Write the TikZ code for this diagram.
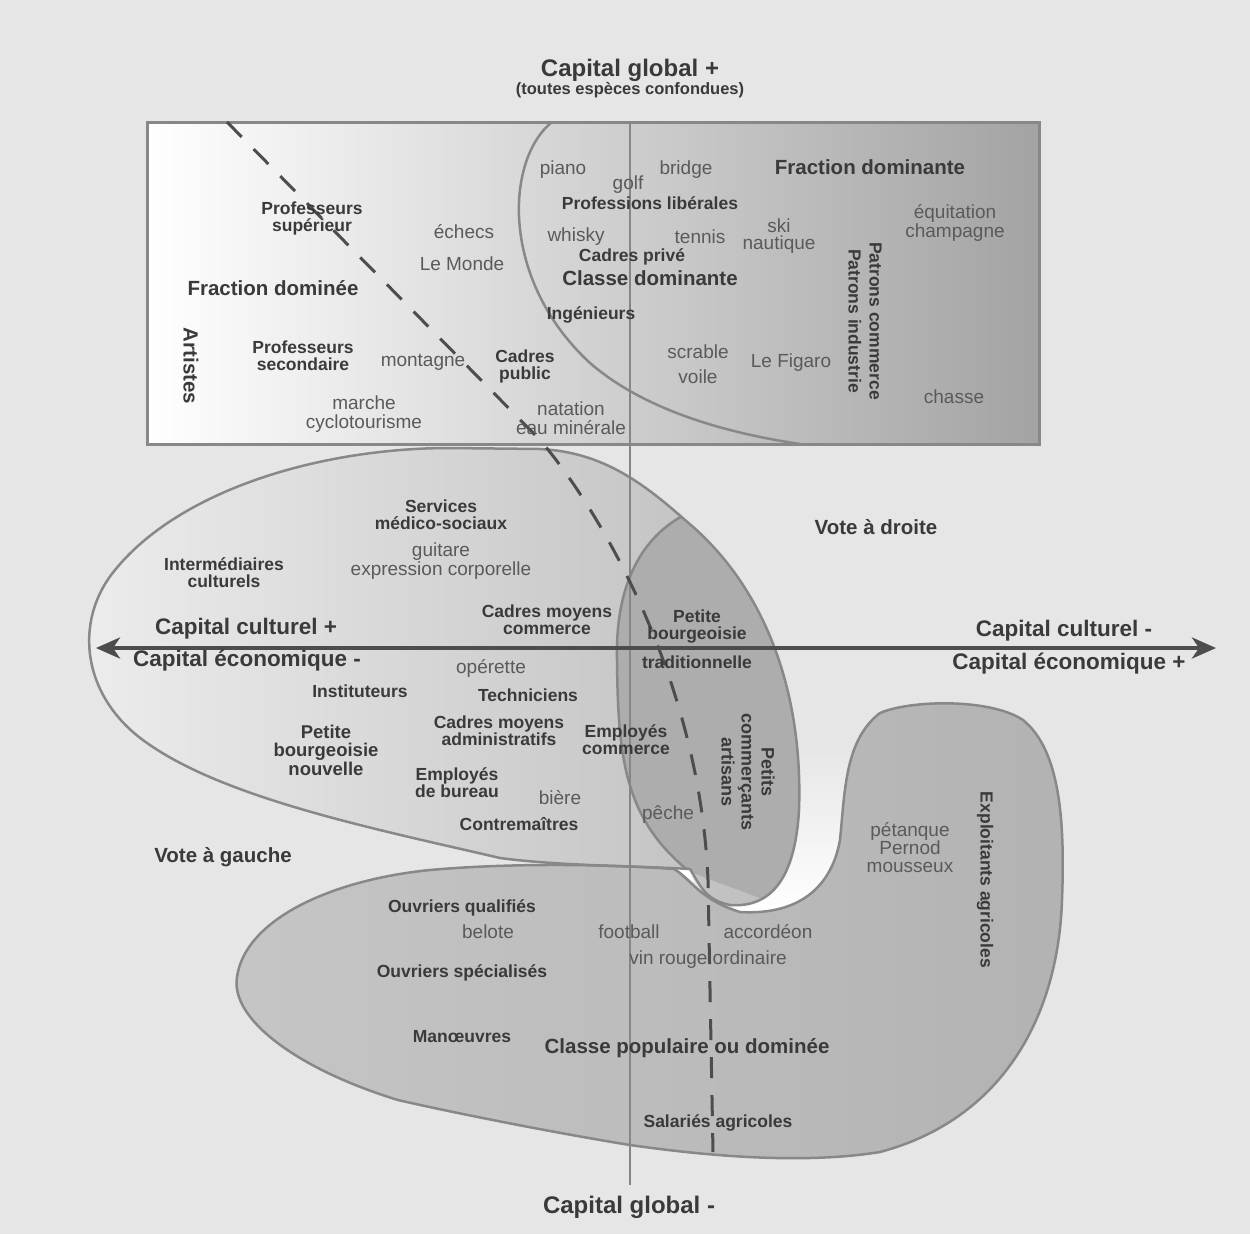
\documentclass[tikz,border=0pt]{standalone}
\usepackage{fontspec}
\setmainfont{Liberation Sans}
\usetikzlibrary{arrows.meta}
\definecolor{bgc}{HTML}{E6E6E6}
\definecolor{labc}{HTML}{3A3A3A}
\definecolor{itemc}{HTML}{5A5A5A}
\definecolor{edgec}{HTML}{888888}
\definecolor{lobec}{HTML}{ADADAD}
\definecolor{axisc}{HTML}{4D4D4D}

\def\midloop{(690,869) .. controls (700,885) and (705,900) .. (730,905) .. controls (770,908) and (795,880) .. (799,810) .. controls (803,700) and (770,590) .. (685,520) .. controls (640,480) and (600,452) .. (540,449) -- (450,448) .. controls (320,448) and (180,490) .. (115,570) .. controls (72,622) and (82,700) .. (150,745) .. controls (230,800) and (380,830) .. (500,858) .. controls (560,866) and (640,866) .. cycle}
\def\lowloop{(674,869) .. controls (690,878) and (700,900) .. (740,912) .. controls (790,915) and (830,895) .. (840,840) .. controls (845,790) and (845,740) .. (880,713) .. controls (910,700) and (990,698) .. (1023,720) .. controls (1060,750) and (1065,820) .. (1062,900) .. controls (1058,1020) and (1000,1120) .. (880,1152) .. controls (800,1165) and (700,1155) .. (630,1145) .. controls (550,1132) and (450,1112) .. (398,1100) .. controls (300,1070) and (230,1020) .. (237,977) .. controls (245,920) and (330,880) .. (430,870) .. controls (520,862) and (620,865) .. cycle}

\begin{document}
\begin{tikzpicture}[x=1pt,y=-1pt,
    lab/.style={text=labc,font=\bfseries\fontsize{17.5}{17}\selectfont,align=center,inner sep=0pt},
    biglab/.style={text=labc,font=\bfseries\fontsize{20.5}{20}\selectfont,align=center,inner sep=0pt},
    axlab/.style={text=labc,font=\bfseries\fontsize{22.5}{22}\selectfont,inner sep=0pt},
    titlelab/.style={text=labc,font=\bfseries\fontsize{24}{24}\selectfont,inner sep=0pt},
    item/.style={text=itemc,font=\fontsize{19}{18.5}\selectfont,align=center,inner sep=0pt},
    edge/.style={draw=edgec,line width=2.5pt},
    axis/.style={draw=axisc,line width=4.5pt,{Stealth[length=24pt,width=21pt,inset=7pt]}-{Stealth[length=24pt,width=21pt,inset=7pt]}}]
  \path[use as bounding box,fill=bgc] (0,0) rectangle (1250,1234);

  % zones
  \shade[top color=bgc,bottom color=white] (799,745) -- (799,810) .. controls (795,880) and (770,908) .. (730,905) -- (740,912) .. controls (790,915) and (830,895) .. (840,840) .. controls (845,790) and (846,760) .. (852,745) -- cycle;
  \fill[left color=gray!45,right color=gray!60] \lowloop;
  \fill[left color=white!93!black,right color=white!74!black] \midloop;
  \begin{scope}
    \clip \midloop;
    \fill[lobec] (700,508) .. controls (645,528) and (615,580) .. (617,660) .. controls (618,760) and (625,820) .. (690,872) -- (900,950) -- (900,450) -- cycle;
    \draw[edge] (700,508) .. controls (645,528) and (615,580) .. (617,660) .. controls (618,760) and (625,820) .. (690,872);
  \end{scope}
  \fill[white] (676,869) -- (689,869) -- (694,882) -- cycle;
  \draw[edge] \lowloop;
  \draw[edge] \midloop;
  \path[draw=edgec,line width=3pt,left color=white,middle color=white!88!black,right color=white!64!black] (147,122) rectangle (1039,444);
  \draw[edge] (552,122) .. controls (505,160) and (500,280) .. (590,363) .. controls (650,415) and (740,435) .. (800,444);

  % axes
  \coordinate (north) at (630,122);
  \coordinate (south) at (630,1185);
  \coordinate (west) at (96,648);
  \coordinate (east) at (1216,648);
  \coordinate (dtop) at (227,122);
  \coordinate (dbot) at (713,1152);
  \draw[gray!95,line width=2pt] (north) -- (south);
  \draw[axis] (west) -- (east);
  \draw[axisc,line width=3pt,dash pattern=on 21pt off 17pt] (dtop) -- (540,440) .. controls (600,510) and (700,680) .. (708,880) -- (dbot);

  % titres des axes
  \node[titlelab] (cgplus) at (630,70) {Capital global +};
  \node[text=labc,font=\bfseries\fontsize{16.5}{16}\selectfont,inner sep=0pt] (toutes) at (630,90) {(toutes espèces confondues)};
  \node[titlelab] (cgminus) at (629,1207) {Capital global -};
  \node[axlab] (ccplus) at (246,629) {Capital culturel +};
  \node[axlab] (ecominus) at (247,661) {Capital économique -};
  \node[axlab] (ccminus) at (1064,631) {Capital culturel -};
  \node[axlab] (ecoplus) at (1069,664) {Capital économique +};

  % classe dominante
  \node[biglab] (fracdomee) at (273,288) {Fraction dominée};
  \node[biglab,rotate=-90] (artistes) at (191,366) {Artistes};
  \node[lab] (profsup) at (312,218) {Professeurs\\supérieur};
  \node[item] (echecs) at (464,232) {échecs};
  \node[item] (monde) at (462,264) {Le Monde};
  \node[lab] (profsec) at (303,356) {Professeurs\\secondaire};
  \node[item] (montagne) at (423,362) {montagne};
  \node[lab] (cadpub) at (525,366) {Cadres\\public};
  \node[item] (marche) at (364,414) {marche\\cyclotourisme};
  \node[item] (natation) at (571,418) {natation\\eau minérale};
  \node[item] (piano) at (563,170) {piano};
  \node[item] (golf) at (628,185) {golf};
  \node[item] (bridge) at (686,170) {bridge};
  \node[lab] (proflib) at (650,203) {Professions libérales};
  \node[item] (whisky) at (576,237) {whisky};
  \node[item] (tennis) at (700,237) {tennis};
  \node[lab] (cadpriv) at (632,257) {Cadres privé};
  \node[biglab] (cldom) at (650,278) {Classe dominante};
  \node[lab] (ingen) at (591,315) {Ingénieurs};
  \node[item] (scrable) at (698,352) {scrable};
  \node[item] (voile) at (698,377) {voile};
  \node[biglab] (fracdomt) at (870,167) {Fraction dominante};
  \node[item,font=\fontsize{19}{17.5}\selectfont] (ski) at (779,236) {ski\\nautique};
  \node[item,font=\fontsize{19}{17}\selectfont] (equit) at (955,223) {équitation\\champagne};
  \node[lab,rotate=-90,font=\bfseries\fontsize{17.5}{21}\selectfont] (patrons) at (865,321) {Patrons commerce\\Patrons industrie};
  \node[item] (figaro) at (791,363) {Le Figaro};
  \node[item] (chasse) at (954,397) {chasse};

  % classes moyennes
  \node[lab] (services) at (441,515) {Services\\médico-sociaux};
  \node[item] (guitare) at (441,561) {guitare\\expression corporelle};
  \node[lab] (intermed) at (224,573) {Intermédiaires\\culturels};
  \node[lab] (cmcom) at (547,620) {Cadres moyens\\commerce};
  \node[item] (operette) at (491,668) {opérette};
  \node[lab] (instit) at (360,691) {Instituteurs};
  \node[lab] (techn) at (528,695) {Techniciens};
  \node[lab,font=\bfseries\fontsize{18.5}{18.5}\selectfont] (pbn) at (326,750) {Petite\\bourgeoisie\\nouvelle};
  \node[lab] (cmadm) at (499,731) {Cadres moyens\\administratifs};
  \node[lab] (empcom) at (626,740) {Employés\\commerce};
  \node[lab] (empbur) at (457,783) {Employés\\de bureau};
  \node[item] (biere) at (560,798) {bière};
  \node[lab] (contre) at (519,824) {Contremaîtres};
  \node[biglab] (vgauche) at (223,857) {Vote à gauche};
  \node[lab] (pbt) at (697,627) {Petite\\bourgeoisie};
  \node[lab] (trad) at (697,662) {traditionnelle};
  \node[biglab] (vdroite) at (876,527) {Vote à droite};
  \node[lab,rotate=-90,font=\bfseries\fontsize{18}{20}\selectfont] (petits) at (748,772) {Petits\\commerçants\\artisans};
  \node[item] (peche) at (668,815) {pêche};

  % classe populaire
  \node[lab,rotate=-90] (exploit) at (985,880) {Exploitants agricoles};
  \node[item,font=\fontsize{19}{18}\selectfont] (petanque) at (910,848) {pétanque\\Pernod\\mousseux};
  \node[lab] (ouvq) at (462,908) {Ouvriers qualifiés};
  \node[item] (belote) at (488,932) {belote};
  \node[item] (football) at (629,932) {football};
  \node[item] (accord) at (768,932) {accordéon};
  \node[item] (vin) at (708,960) {vin rouge ordinaire};
  \node[lab] (ouvs) at (462,973) {Ouvriers spécialisés};
  \node[lab] (manoeuvres) at (462,1037) {Manœuvres};
  \node[biglab] (clpop) at (687,1048) {Classe populaire ou dominée};
  \node[lab] (salaries) at (718,1123) {Salariés agricoles};
\end{tikzpicture}
\end{document}
